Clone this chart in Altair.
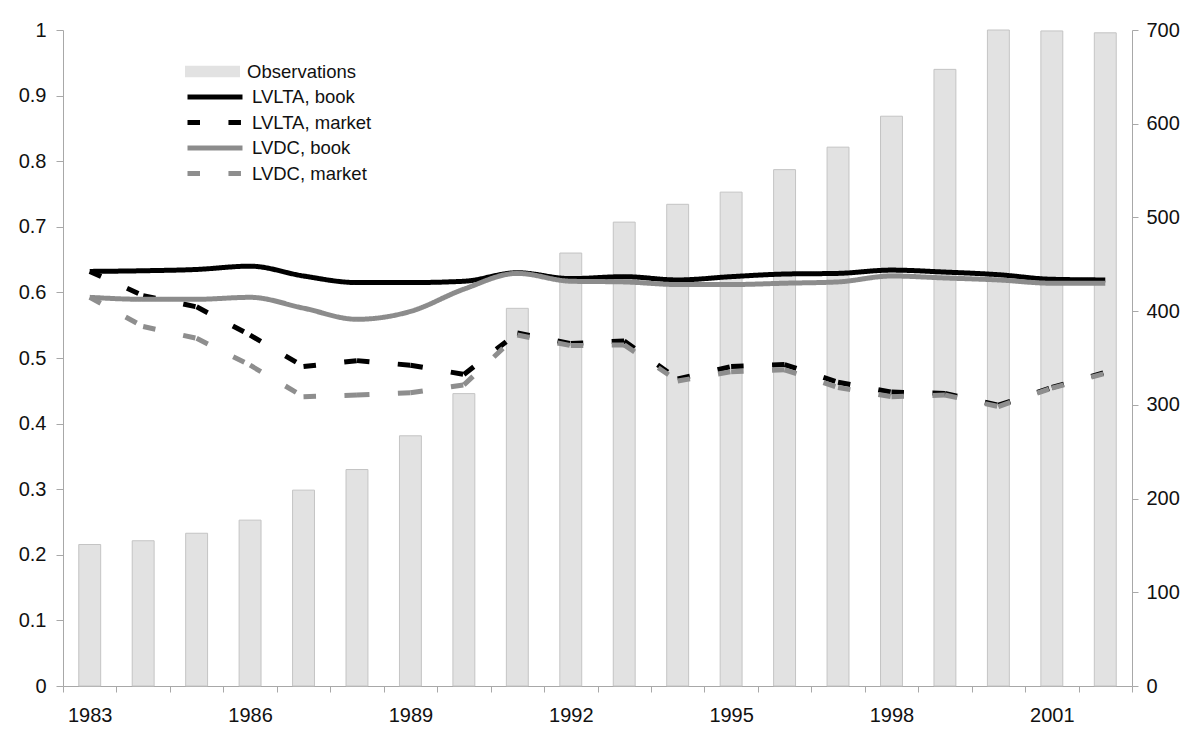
import altair as alt
import pandas as pd

years = list(range(1983, 2003))
observations = [151, 155, 163, 177, 209, 231, 267, 312, 403, 462,
                495, 514, 527, 551, 575, 608, 658, 700, 699, 697]
lvlta_book = [0.632, 0.633, 0.635, 0.640, 0.625, 0.615, 0.615, 0.617, 0.630, 0.621,
              0.624, 0.619, 0.624, 0.628, 0.629, 0.634, 0.631, 0.627, 0.620, 0.619]
lvlta_market = [0.632, 0.595, 0.578, 0.535, 0.487, 0.496, 0.489, 0.475, 0.538, 0.522,
                0.526, 0.468, 0.487, 0.490, 0.463, 0.448, 0.446, 0.428, 0.455, 0.478]
lvdc_book = [0.5925, 0.5895, 0.5895, 0.5925, 0.576, 0.559, 0.571, 0.605, 0.629, 0.617,
             0.616, 0.612, 0.612, 0.614, 0.616, 0.625, 0.622, 0.619, 0.614, 0.614]
lvdc_market = [0.5925, 0.548, 0.530, 0.489, 0.441, 0.4436, 0.447, 0.459, 0.535, 0.519,
               0.520, 0.465, 0.479, 0.482, 0.455, 0.441, 0.4436, 0.426, 0.454, 0.4767]

series_names = ["LVLTA, book", "LVLTA, market", "LVDC, book", "LVDC, market"]
series_colors = ["#000000", "#000000", "#8c8c8c", "#8e8e8e"]
DASH = [12.5, 28.45, 12.5, 1000]
series_dash = [[1, 0], DASH, [1, 0], DASH]

FONT = "Liberation Sans"
AXIS_GREY = "#a8a8a8"
LABEL_SIZE = 20

bars_df = pd.DataFrame({"year": years, "obs": observations, "label": "Observations"})


def solid_df(name, vals):
    return pd.DataFrame({"year": years, "value": vals, "series": name})


def dashed_df(name, vals):
    rows = []
    for k in range(len(years) - 1):
        for j in (k, k + 1):
            rows.append({"year": years[j], "value": vals[j], "series": name, "seg": k})
    return pd.DataFrame(rows)


x_enc = alt.X(
    "year:O",
    title=None,
    scale=alt.Scale(paddingInner=0, paddingOuter=0),
    axis=alt.Axis(
        tickBand="extent",
        labelExpr="(datum.value - 1983) % 3 === 0 ? datum.label : ''",
        labelAngle=0,
        labelFont=FONT,
        labelFontSize=LABEL_SIZE,
        labelColor="#111111",
        labelPadding=13,
        tickSize=6,
        tickColor=AXIS_GREY,
        domainColor=AXIS_GREY,
        grid=False,
    ),
)

bars = alt.Chart(bars_df).mark_bar(
    width={"band": 0.41}, stroke="#c4c4c4", strokeWidth=1
).encode(
    x=x_enc,
    y=alt.Y(
        "obs:Q",
        title=None,
        scale=alt.Scale(domain=[0, 700], nice=False),
        axis=alt.Axis(
            orient="right",
            values=list(range(0, 701, 100)),
            labelFont=FONT,
            labelFontSize=LABEL_SIZE,
            labelColor="#111111",
            labelPadding=8,
            tickSize=6,
            tickColor=AXIS_GREY,
            domainColor=AXIS_GREY,
            grid=False,
        ),
    ),
    fill=alt.Fill(
        "label:N",
        title=None,
        scale=alt.Scale(domain=["Observations"], range=["#e2e2e2"]),
        legend=alt.Legend(
            orient="none",
            legendX=140,
            legendY=32,
            padding=0,
            symbolType="M-2.895,-0.6H2.895V0.6H-2.895Z",
            symbolSize=361,
            symbolStrokeWidth=0,
            labelOffset=25,
            labelFont=FONT,
            labelFontSize=18.5,
            labelColor="#111111",
        ),
    ),
)

line_legend = alt.Legend(
    orient="none",
    legendX=140,
    legendY=55,
    padding=0,
    symbolType="M-2.895,0H2.895",
    symbolSize=361,
    symbolStrokeWidth=5,
    rowPadding=3.5,
    labelOffset=25,
    labelFont=FONT,
    labelFontSize=18.5,
    labelColor="#111111",
)
color_scale = alt.Scale(domain=series_names, range=series_colors)
dash_scale = alt.Scale(domain=series_names, range=series_dash)

left_axis = alt.Axis(
    orient="left",
    values=[round(i * 0.1, 1) for i in range(11)],
    format="~g",
    labelFont=FONT,
    labelFontSize=LABEL_SIZE,
    labelColor="#111111",
    labelPadding=10,
    tickSize=7,
    tickColor=AXIS_GREY,
    domainColor=AXIS_GREY,
    grid=False,
)
y_scale = alt.Scale(domain=[0, 1], nice=False)


def line_layer(df, dashed):
    enc = dict(
        x=x_enc,
        y=alt.Y("value:Q", title=None, scale=y_scale, axis=left_axis),
        stroke=alt.Stroke("series:N", title=None, scale=color_scale, legend=line_legend),
        strokeDash=alt.StrokeDash("series:N", title=None, scale=dash_scale, legend=line_legend),
    )
    if dashed:
        enc["detail"] = alt.Detail("seg:N")
    return alt.Chart(df).mark_line(
        strokeWidth=5, interpolate="linear" if dashed else "monotone"
    ).encode(**enc)


lines = alt.layer(
    line_layer(solid_df("LVLTA, book", lvlta_book), False),
    line_layer(dashed_df("LVLTA, market", lvlta_market), True),
    line_layer(solid_df("LVDC, book", lvdc_book), False),
    line_layer(dashed_df("LVDC, market", lvdc_market), True),
)

chart = alt.layer(bars, lines).resolve_scale(y="independent").properties(
    width=1069,
    height=656,
    autosize=alt.AutoSizeParams(type="none"),
    padding={"left": 55, "top": 22, "right": 59, "bottom": 57},
    background="white",
).configure_view(stroke=None)

chart.save("out.html", embed_options={"renderer": "svg", "actions": False})
